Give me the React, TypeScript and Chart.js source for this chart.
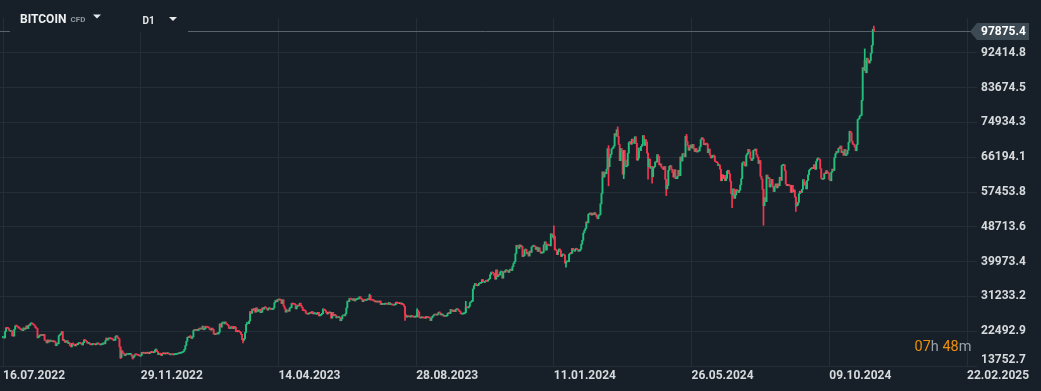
import { useEffect, useRef } from "react";
import { Chart, registerables } from "chart.js";
Chart.register(...registerables);

// ---------- DATA ----------
const startDate = "2022-07-16";
const firstOpen = 20830;

// daily closes, 16.07.2022 .. 31.12.2022
const closes2022 = [
  21200, 20790, 22430, 23390, 23230, 23160, 22680, 22450, 22580, 21310, 21250, 22950, 23840, 23800, 23650, 23300,
  23270, 22990, 22820, 22620, 23310, 22960, 23180, 23810, 23160, 23960, 23940, 24400, 24440, 24300, 24100, 23850,
  23340, 23190, 20830, 21140, 21520, 21400, 21530, 21370, 21680, 20240, 20040, 19550, 20290, 19800, 20050,
  20130, 19950, 19830, 20000, 19800, 18840, 19290, 19320, 21360, 21650, 21830, 22400, 20170, 20240, 19700,
  19800, 20110, 19420, 19540, 18880, 18550, 19410, 19300, 18930, 18800, 19220, 19090, 19430, 19590, 19420,
  19310, 19050, 19620, 20340, 20160, 19960, 19530, 19420, 19450, 19130, 19060, 19160, 19380, 19180, 19070, 19270,
  19550, 19330, 19120, 19040, 19170, 19200, 19570, 19330, 20080, 20770, 20290, 20600, 20810, 20630, 20490,
  20480, 20150, 20210, 21150, 21300, 20900, 20590, 18540, 15880, 17590, 17070, 16800, 16350, 16620, 16900,
  16660, 16690, 16700, 16700, 16280, 15780, 16190, 16610, 16600, 16520, 16460, 16440, 16220, 16440, 17170,
  16970, 17090, 16890, 17110, 16970, 17090, 16840, 17230, 17130, 17130, 17090, 17210, 17780, 17810, 17360, 16630,
  16780, 16740, 16440, 16900, 16820, 16830, 16780, 16840, 16830, 16920, 16710, 16550, 16630, 16600, 16540,
];

// daily closes, 2023
const closes2023 = [
  16620, 16680, 16680, 16850, 16830, 16950, 16950, 17090, 17200, 17440, 17940, 18850, 19930, 20950, 20880, 21170,
  21160, 20680, 21080, 22680, 22780, 22710, 22930, 22640, 23050, 23020, 23080, 23030, 23770, 22850, 23140,
  23730, 23500, 23430, 23330, 22940, 22760, 23260, 22960, 21800, 21630, 21860, 21790, 21800, 22220, 24330, 23520,
  24570, 24640, 24330, 24830, 24440, 24190, 23950, 23190, 23160, 23560, 23490, 23150,
  23650, 23470, 22360, 22350, 22430, 22410, 22200, 21700, 20360, 20190, 20630, 22160, 24200, 24750, 24380, 25050,
  27420, 26970, 28040, 27770, 28180, 27270, 28350, 27480, 27490, 27990, 27140, 27260, 28350, 28030, 28470,
  28450, 28200, 27800, 28170, 28180, 28040, 27930, 27950, 28330, 29650, 30240, 29920, 30470, 30320, 30320,
  30310, 29430, 30390, 28820, 28250, 27280, 27820, 27590, 27510, 28300, 28420, 29470, 29340, 29250, 29230,
  28090, 28680, 29030, 28850, 29530, 28900, 28450, 27690, 27630, 27620, 26990, 26800, 26780, 26930, 27170, 27030,
  27400, 26830, 26890, 27120, 26750, 26850, 27220, 26330, 26480, 26720, 26870, 28090, 27740, 27700, 27220,
  26820, 27250, 27070, 27120, 25760, 27240, 26350, 26500, 26480, 25850, 25940, 25900, 25920, 25120, 25580,
  26340, 26510, 26340, 26850, 28330, 30030, 29910, 30700, 30550, 30480, 30270, 30690, 30090, 30450, 30480,
  30590, 30620, 31160, 30770, 30510, 29900, 30350, 30290, 30170, 30410, 30620, 30390, 31480, 30330, 30300, 30250,
  30140, 29860, 29910, 29800, 29910, 29800, 30080, 29180, 29230, 29350, 29210, 29310, 29360, 29280, 29230,
  29710, 29180, 29180, 29070, 29050, 29040, 29180, 29770, 29580, 29430, 29400, 29420, 29300, 29410, 29170, 28700,
  26620, 26050, 26100, 26190, 26120, 26040, 26430, 26160, 26050, 26010, 26090, 26100, 27730, 27300, 25930,
  25800, 25870, 25970, 25820, 25790, 25750, 26240, 25910, 25900, 25830, 25160, 25840, 26230, 26530, 26610,
  26570, 26530, 26760, 27210, 27130, 26570, 26580, 26580, 26250, 26300, 26220, 26370, 27020, 26910, 26970,
  27980, 27530, 27430, 27780, 27410, 27930, 27960, 27930, 27590, 27390, 26870, 26760, 26860, 26860, 27160, 28520,
  28420, 28330, 28720, 29680, 29920, 29990, 33090, 33900, 34500, 34160, 33910, 34090, 34540, 34500, 34670,
  35440, 34940, 34730, 35080, 35050, 35040, 35420, 35640, 36700, 37310, 37130, 37070, 36490, 35550, 37880,
  36160, 36600, 36580, 37390, 37480, 35810, 37420, 37290, 37720, 37800, 37480, 37250, 37830, 37860, 37720,
  38690, 39470, 39980, 41980, 44080, 43770, 43290, 44170, 43720, 43790, 41240, 41450, 42890, 43020, 41930, 42240,
  41360, 42620, 42270, 43650, 43860, 43990, 43740, 43020, 43610, 42520, 43440, 42580, 42070, 42140, 42280,
];

// daily closes, 01.01.2024 .. 22.11.2024
const closes2024 = [
  44180, 44940, 42850, 44180, 44160, 43970, 43930, 46970, 46120, 46630, 46340, 42890, 42850, 41730, 42510, 43150,
  42740, 41260, 41620, 41660, 41580, 39570, 39900, 40080, 39940, 41820, 42120, 42030, 43300, 42940, 42580,
  43080, 43190, 43000, 42580, 42660, 43090, 44330, 45300, 47150, 47770, 48290, 49960, 49700, 51840, 51940,
  52160, 51660, 52120, 51780, 52280, 51840, 51300, 50730, 51570, 51730, 54480, 57090, 62500, 61200,
  62440, 62030, 63170, 68330, 63800, 66100, 66930, 68300, 68500, 69020, 72120, 71480, 73080, 71400, 69400, 65320,
  68390, 67550, 61910, 67910, 65490, 63780, 64060, 67210, 69880, 69990, 69450, 70740, 69890, 69650, 71330,
  69700, 65450, 65980, 68510, 67840, 68900, 69360, 71620, 69140, 70590, 70060, 67200, 63820, 65740, 63430,
  63810, 61280, 63510, 63840, 64990, 64940, 66840, 66410, 64280, 64500, 63760, 63420, 63120, 63840, 60640,
  58250, 59120, 62890, 63890, 64030, 63160, 62330, 61190, 63050, 60790, 60790, 61450, 62900, 61550, 66270, 65230,
  67050, 66940, 66280, 71450, 70140, 69120, 67930, 68530, 69260, 68510, 69400, 68300, 67600, 68350, 67490,
  67710, 67750, 68800, 70570, 71080, 70760, 69340, 69310, 69650, 69510, 67320, 68240, 66750, 66010, 66190,
  66640, 66490, 65140, 64960, 64830, 64100, 64250, 63180, 60280, 61800, 60860, 61670, 60320, 60890, 62680,
  62850, 62030, 60170, 57030, 56660, 58230, 55850, 56700, 58050, 57720, 57340, 57900, 59220, 60790, 64720, 65040,
  64090, 63970, 66710, 67150, 68170, 67580, 65930, 65370, 65800, 67910, 67810, 68250, 66780, 66190, 64620,
  65360, 61420, 60680, 58120, 53990, 56030, 55030, 61710, 60880, 60940, 58710, 59350, 60610, 58740, 57560, 58870,
  59480, 58480, 59490, 59010, 61160, 60380, 64090, 64180, 64260, 62830, 59420, 59030, 59370, 59120, 58970,
  57330, 59130, 57480, 57970, 56160, 53950, 54160, 54840, 57020, 57650, 57340, 58130, 60570, 60010, 59180,
  58210, 60310, 61760, 62940, 63190, 63350, 63580, 63330, 64300, 63140, 65180, 65790, 65890, 65600, 63330,
  60840, 60630, 60750, 62090, 62050, 62820, 62220, 62130, 60580, 60270, 62450, 63200, 62850, 66050, 67040, 67610,
  67400, 68420, 68360, 69000, 67370, 67380, 66680, 68160, 66640, 67010, 67940, 69910, 72720, 72340, 70220,
  69480, 69310, 68740, 67810, 69360, 75640, 75900, 76550, 76700, 80470, 88700, 87950, 90520, 87400, 91070,
  90600, 89850, 90460, 92310, 94290, 98350, 97875.4,
];

// notable wicks (null = body edge)
const wickDates = [
  "2022-11-09", "2022-11-21", "2023-03-10", "2023-07-13", "2023-08-17", "2023-08-29", "2023-10-16",
  "2024-01-11", "2024-01-23", "2024-03-05", "2024-03-14", "2024-03-20", "2024-04-13", "2024-04-17",
  "2024-05-01", "2024-05-21", "2024-07-05", "2024-08-05", "2024-09-06", "2024-11-13", "2024-11-22",
];
const wickLows = [
  15590, 15480, 19570, null, 25200, null, null,
  45600, 38550, 59000, null, 60800, 60700, 59700,
  56550, null, 53500, 49100, 52600, null, null,
];
const wickHighs = [
  null, null, null, 31800, null, 28140, 30000,
  48970, null, 69100, 73800, null, null, null,
  null, 71950, null, null, null, 93400, 99100,
];

const xTickDays = [0, 136, 272, 408, 544, 680, 816, 952];
const xTickLabels = ["16.07.2022", "29.11.2022", "14.04.2023", "28.08.2023", "11.01.2024", "26.05.2024", "09.10.2024", "22.02.2025"];
const yTickValues = [13752.7, 22492.9, 31233.2, 39973.4, 48713.6, 57453.8, 66194.1, 74934.3, 83674.5, 92414.8];
const yMin = 13752.7;
const yMax = 101155.0;
const xMin = -3;
const xMax = 952;

const symbolName = "BITCOIN";
const symbolType = "CFD";
const intervalName = "D1";
const countdownParts = [
  { t: "07", c: "orange" },
  { t: "h", c: "gray" },
  { t: " ", c: "gray" },
  { t: "48", c: "orange" },
  { t: "m", c: "gray" },
];

// ---------- STYLE ----------
const BG = "#172028";
const GRID = "#242e36";
const GREEN = "#22bf7d";
const RED = "#f0374f";
const TEXT = "#d7dadd";
const FONT = 'Roboto, "Noto Sans", sans-serif';

function dayIndex(d: string) {
  const [y, m, dd] = d.split("-").map(Number);
  const [y0, m0, d0] = startDate.split("-").map(Number);
  return Math.round((Date.UTC(y, m - 1, dd) - Date.UTC(y0, m0 - 1, d0)) / 86400000);
}

export default function App() {
  const ref = useRef<HTMLCanvasElement | null>(null);

  useEffect(() => {
    document.body.style.margin = "0";
    const closes = [...closes2022, ...closes2023, ...closes2024];
    const opens = closes.map((c, i) => (i === 0 ? firstOpen : closes[i - 1]));
    const colors = closes.map((c, i) => (c >= opens[i] ? GREEN : RED));
    const bodyData = closes.map((c, i) => ({ x: i, y: [opens[i], c] }));
    const wickData = wickDates.map((d, k) => {
      const i = dayIndex(d);
      const lo = wickLows[k] ?? Math.min(opens[i], closes[i]);
      const hi = wickHighs[k] ?? Math.max(opens[i], closes[i]);
      return { x: i, y: [lo, hi] };
    });
    const wickColors = wickDates.map((d) => colors[dayIndex(d)]);
    const lastPrice = closes[closes.length - 1];

    const decor = {
      id: "decor",
      beforeDraw(chart: any) {
        const ctx = chart.ctx;
        ctx.save();
        ctx.fillStyle = BG;
        ctx.fillRect(0, 0, chart.width, chart.height);
        ctx.restore();
      },
      beforeDatasetsDraw(chart: any) {
        const ctx = chart.ctx;
        const y = Math.round(chart.scales.y.getPixelForValue(lastPrice)) + 0.5;
        ctx.save();
        ctx.strokeStyle = "#58636b";
        ctx.lineWidth = 1;
        ctx.beginPath();
        ctx.moveTo(0, y);
        ctx.lineTo(971, y);
        ctx.stroke();
        ctx.restore();
      },
      afterDraw(chart: any) {
        const ctx = chart.ctx;
        const ys = chart.scales.y;
        const py = Math.round(ys.getPixelForValue(lastPrice)) + 0.5;
        ctx.save();
        // header box
        ctx.fillStyle = BG;
        ctx.fillRect(10, 0, 178, 32);
        ctx.textBaseline = "alphabetic";
        ctx.textAlign = "left";
        ctx.fillStyle = "#eef0f2";
        ctx.font = `bold 12px ${FONT}`;
        ctx.fillText(symbolName, 20, 23);
        ctx.fillStyle = "#8f999f";
        ctx.font = `bold 8px ${FONT}`;
        ctx.fillText(symbolType, 70.5, 21.5);
        ctx.fillStyle = "#e6e8ea";
        ctx.beginPath();
        ctx.moveTo(93, 14.5);
        ctx.lineTo(101, 14.5);
        ctx.lineTo(97, 18.5);
        ctx.closePath();
        ctx.fill();
        ctx.font = `bold 10px ${FONT}`;
        ctx.fillText(intervalName, 142.5, 24);
        ctx.beginPath();
        ctx.moveTo(169, 17);
        ctx.lineTo(177, 17);
        ctx.lineTo(173, 21);
        ctx.closePath();
        ctx.fill();

        // price label
        ctx.fillStyle = "#3d4a54";
        ctx.beginPath();
        ctx.moveTo(970, py);
        ctx.lineTo(977, py - 8.5);
        ctx.lineTo(1029, py - 8.5);
        ctx.lineTo(1029, py + 8.5);
        ctx.lineTo(977, py + 8.5);
        ctx.closePath();
        ctx.fill();
        ctx.fillStyle = "#ffffff";
        ctx.font = `bold 12px ${FONT}`;
        ctx.textBaseline = "middle";
        ctx.fillText(lastPrice.toFixed(1), 981, py + 0.5);

        // bottom y label (shifted up above the axis line)
        ctx.fillStyle = TEXT;
        ctx.fillText(yTickValues[0].toFixed(1), 981, 360);

        // countdown
        ctx.textBaseline = "alphabetic";
        ctx.font = `14.5px ${FONT}`;
        let x = 914.5;
        for (const p of countdownParts) {
          ctx.fillStyle = p.c === "orange" ? "#ee8f0b" : "#9aa2a9";
          ctx.fillText(p.t, x, 351);
          x += ctx.measureText(p.t).width;
        }
        ctx.restore();
      },
    };

    const chart = new Chart(ref.current as HTMLCanvasElement, {
      type: "bar",
      data: {
        datasets: [
          {
            data: bodyData as any,
            backgroundColor: colors,
            borderWidth: 0,
            barThickness: 1.3,
            minBarLength: 1,
            grouped: false,
            order: 1,
          } as any,
          {
            data: wickData as any,
            backgroundColor: wickColors,
            borderWidth: 0,
            barThickness: 1,
            grouped: false,
            order: 2,
          } as any,
        ],
      },
      options: {
        responsive: false,
        devicePixelRatio: 1,
        animation: false,
        events: [],
        layout: { padding: { top: 18, left: 0, right: 0, bottom: 0 } },
        plugins: { legend: { display: false }, tooltip: { enabled: false } },
        scales: {
          x: {
            type: "linear",
            min: xMin,
            max: xMax,
            offset: false,
            grid: { color: GRID, drawTicks: false, lineWidth: 1, offset: false },
            border: { display: false },
            ticks: {
              align: "start",
              padding: 3,
              color: TEXT,
              font: { family: FONT, size: 12, weight: "bold" },
              maxRotation: 0,
              autoSkip: false,
              callback: (v: any) => {
                const k = xTickDays.indexOf(Number(v));
                return k >= 0 ? xTickLabels[k] : "";
              },
            },
            afterBuildTicks: (s: any) => {
              s.ticks = xTickDays.map((v) => ({ value: v }));
            },
            afterFit: (s: any) => {
              s.height = 25;
            },
          } as any,
          y: {
            type: "linear",
            position: "right",
            min: yMin,
            max: yMax,
            grid: { color: GRID, drawTicks: true, tickLength: 10, tickColor: GRID, lineWidth: 1 },
            border: { display: false },
            ticks: {
              padding: 4,
              color: TEXT,
              font: { family: FONT, size: 12, weight: "bold" },
              callback: (v: any, i: number) => (i === 0 ? "" : Number(v).toFixed(1)),
            },
            afterBuildTicks: (s: any) => {
              s.ticks = yTickValues.map((v) => ({ value: v }));
            },
            afterFit: (s: any) => {
              s.width = 74;
            },
          } as any,
        },
      },
      plugins: [decor],
    });
    return () => chart.destroy();
  }, []);

  return (
    <div style={{ position: "fixed", left: 0, top: 0, width: 1041, height: 391, background: BG }}>
      <canvas ref={ref} width={1041} height={391} style={{ display: "block" }} />
    </div>
  );
}
